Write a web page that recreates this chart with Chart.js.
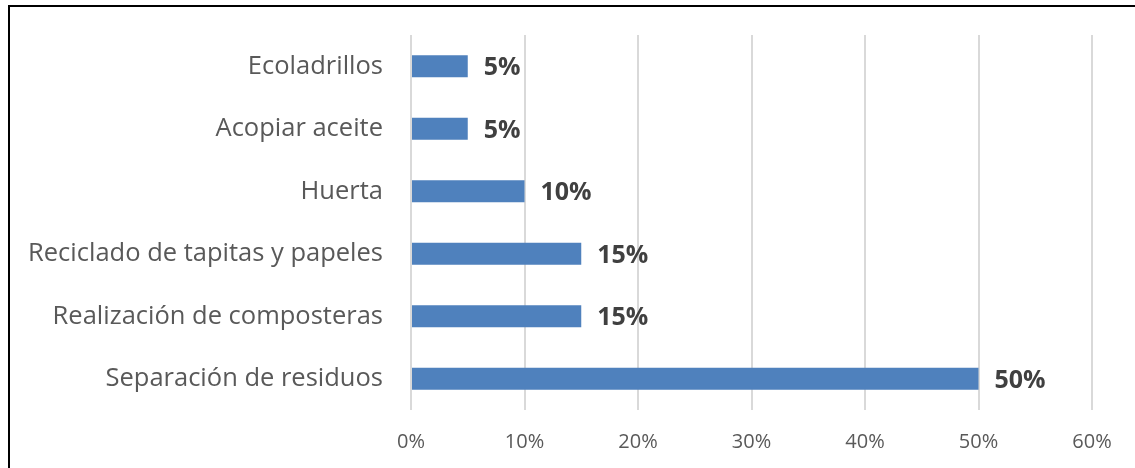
<!DOCTYPE html>
<html>
<head>
<meta charset="utf-8">
<script src="https://cdn.jsdelivr.net/npm/chart.js@4/dist/chart.umd.min.js"></script>
<style>
  html, body { margin: 0; padding: 0; background: #fff; overflow: hidden; }
  #frame { position: absolute; left: 8px; top: 5px; width: 1200px; height: 600px; border: 2px solid #000; }
  #myChartBar { position: absolute; left: 0; top: 0; }
</style>
</head>
<body>
<div id="frame"></div>
<canvas id="myChartBar" width="1135" height="468"></canvas>
<script>
const categories = ['Ecoladrillos', 'Acopiar aceite', 'Huerta', 'Reciclado de tapitas y papeles', 'Realización de composteras', 'Separación de residuos'];
const values = [5, 5, 10, 15, 15, 50];
const tickLabels = ['0%', '10%', '20%', '30%', '40%', '50%', '60%'];

const fontFamily = '"Open Sans", "Noto Sans", sans-serif';

// draws the bold value next to each bar
const valueLabels = {
    id: 'valueLabels',
    afterDatasetsDraw(chart) {
        const ctx = chart.ctx;
        const meta = chart.getDatasetMeta(0);
        ctx.save();
        ctx.font = 'bold 25px ' + fontFamily;
        ctx.fillStyle = '#404040';
        ctx.textAlign = 'left';
        ctx.textBaseline = 'middle';
        meta.data.forEach((bar, i) => {
            ctx.fillText(values[i] + '%', bar.x + 16, bar.y + 2);
        });
        ctx.restore();
    }
};

const ctx = document.getElementById('myChartBar').getContext('2d');
const chart = new Chart(ctx, {
    type: 'bar',
    data: {
        labels: categories,
        datasets: [{
            data: values,
            backgroundColor: '#4f81bd',
            borderWidth: 0,
            categoryPercentage: 1,
            barPercentage: 0.35
        }]
    },
    options: {
        indexAxis: 'y',
        responsive: false,
        animation: false,
        devicePixelRatio: 1,
        layout: { padding: { left: 0, right: 43, top: 35, bottom: 0 } },
        plugins: {
            legend: { display: false },
            tooltip: { enabled: false }
        },
        scales: {
            x: {
                min: 0,
                max: 60,
                ticks: {
                    stepSize: 10,
                    padding: 20,
                    color: '#595959',
                    font: { family: fontFamily, size: 20 },
                    callback: (v, i) => tickLabels[i]
                },
                grid: { color: '#d9d9d9', lineWidth: 2, drawTicks: false },
                border: { display: false },
                afterFit: (scale) => {
                    scale.height = 58;
                    scale.paddingLeft = 0;
                    scale.paddingRight = 0;
                }
            },
            y: {
                ticks: {
                    padding: 28,
                    color: '#595959',
                    font: { family: fontFamily, size: 25.5 }
                },
                grid: { display: false, drawTicks: false },
                border: { display: false },
                afterFit: (scale) => {
                    scale.width = 411;
                    scale.paddingTop = 0;
                    scale.paddingBottom = 0;
                }
            }
        }
    },
    plugins: [valueLabels]
});
</script>
</body>
</html>
